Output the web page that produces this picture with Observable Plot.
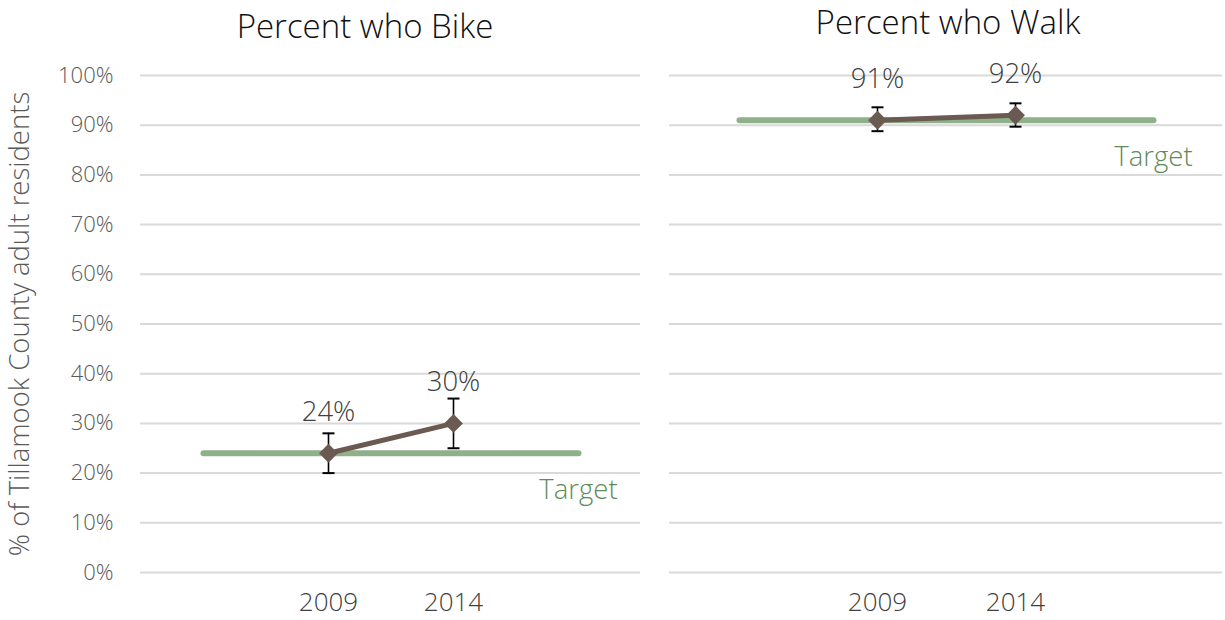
<!DOCTYPE html>
<html>
<head>
<meta charset="utf-8">
<script src="https://cdn.jsdelivr.net/npm/d3@7"></script>
<script src="https://cdn.jsdelivr.net/npm/@observablehq/plot@0.6"></script>
<style>
  html, body { margin: 0; padding: 0; background: #fff; }
  body { width: 1225px; height: 620px; position: relative; overflow: hidden; font-family: "Open Sans", Lato, sans-serif; }
  .title { position: absolute; font-size: 33px; line-height: 1; color: #111; white-space: nowrap; transform: translate(-50%, -50%); font-weight: 300; }
  #row { position: absolute; left: 0; top: 45px; display: flex; }
  svg { overflow: visible; }
</style>
</head>
<body>
<div class="title" id="t1" style="left:365px; top:25px;">Percent who Bike</div>
<div class="title" id="t2" style="left:948px; top:21px;">Percent who Walk</div>
<div id="row"></div>
<script>
// ---- data ----
const slots = ["start", "2009", "2014", "end"];   // category slots along x (outer ones empty)
const years = ["2009", "2014"];
const yTicks = [0, 10, 20, 30, 40, 50, 60, 70, 80, 90, 100];

const bikePct  = [24, 30];
const bikeLow  = [20, 25];
const bikeHigh = [28, 35];
const bikeTarget = 24;

const walkPct  = [91, 92];
const walkLow  = [88.8, 89.7];
const walkHigh = [93.6, 94.4];
const walkTarget = 91;

const yLabel = "% of Tillamook County adult residents";

// ---- styles ----
const gridColor = "#d9d9d9";
const lineColor = "#6b5a52";
const targetColor = "#8fb08a";
const targetText = "#5f8b5a";
const fontFam = "'Open Sans', Lato, sans-serif";

const capSymbol = { draw(ctx) { ctx.moveTo(-6, 0); ctx.lineTo(6, 0); } };

function panel(pct, low, high, target, opts) {
  const rows = years.map((y, i) => ({x: y, v: pct[i], lo: low[i], hi: high[i]}));
  const tgt = [{x: slots[0], v: target}, {x: slots[slots.length - 1], v: target}];
  return Plot.plot({
    width: opts.width,
    height: 575,
    marginLeft: opts.marginLeft,
    marginRight: opts.marginRight,
    marginTop: 30,
    marginBottom: 48,
    style: {fontFamily: fontFam, color: "#595959", background: "transparent"},
    x: {type: "point", domain: slots, padding: 0.5, label: null, axis: null},
    y: {domain: [0, 100], label: null, axis: null},
    marks: [
      Plot.gridY(yTicks, {stroke: gridColor, strokeOpacity: 1, strokeWidth: 2}),
      opts.yAxis
        ? Plot.axisY(yTicks, {tickSize: 0, tickPadding: 27, fontSize: 22, fontWeight: 300, fill: "#595959",
            tickFormat: d => d + "%", label: null})
        : null,
      opts.yAxis
        ? Plot.axisY([], {tickSize: 0, fontSize: 27.5, fontWeight: 300, fill: "#595959",
            label: yLabel, labelAnchor: "center", labelArrow: "none", labelOffset: 131})
        : null,
      Plot.axisX(years, {tickSize: 0, tickPadding: 20, fontSize: 26, fontWeight: 300, fill: "#404040", label: null}),
      Plot.line(tgt, {x: "x", y: "v", stroke: targetColor, strokeWidth: 6, strokeLinecap: "round"}),
      Plot.line(rows, {x: "x", y: "v", stroke: lineColor, strokeWidth: 5}),
      Plot.ruleX(rows, {x: "x", y1: "lo", y2: "hi", stroke: "#000", strokeWidth: 1.6}),
      Plot.dot(rows, {x: "x", y: "lo", symbol: capSymbol, stroke: "#000", strokeWidth: 2, r: 4}),
      Plot.dot(rows, {x: "x", y: "hi", symbol: capSymbol, stroke: "#000", strokeWidth: 2, r: 4}),
      Plot.dot(rows, {x: "x", y: "v", symbol: "diamond2", r: 8.5, fill: lineColor, stroke: "none"}),
      Plot.text(rows, {x: "x", y: "v", text: d => d.v + "%", dy: -41, fontSize: 27.5, fontWeight: 300, fill: "#404040"}),
      Plot.text([tgt[1]], {x: "x", y: "v", text: () => "Target", dy: 37, fontSize: 27.5, fontWeight: 300, fill: targetText})
    ]
  });
}

const row = document.getElementById("row");
row.appendChild(panel(bikePct, bikeLow, bikeHigh, bikeTarget, {width: 645, marginLeft: 140, marginRight: 5, yAxis: true}));
row.appendChild(panel(walkPct, walkLow, walkHigh, walkTarget, {width: 580, marginLeft: 24, marginRight: 3, yAxis: false}));
</script>
</body>
</html>
